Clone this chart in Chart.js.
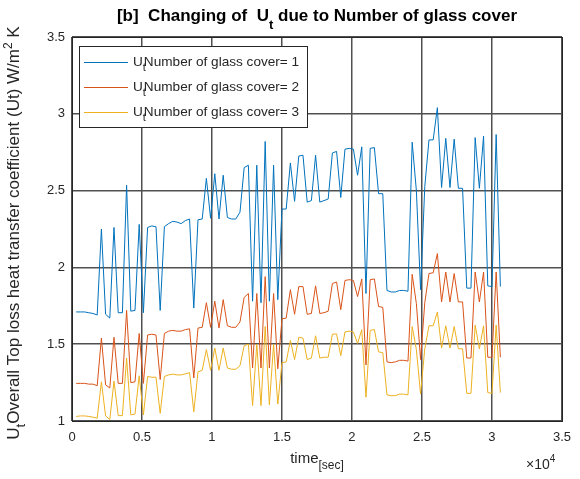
<!DOCTYPE html>
<html>
<head>
<meta charset="utf-8">
<script src="https://cdn.jsdelivr.net/npm/chart.js@4.4.0/dist/chart.umd.min.js"></script>
<style>
  html, body { margin: 0; padding: 0; background: #fff; }
  #wrap { width: 580px; height: 479px; }
</style>
</head>
<body>
<div id="wrap"><canvas id="utChart" width="580" height="479"></canvas></div>
<script>
/* ------------------ DATA ------------------ */
const timeSec = [
    300, 600, 900, 1200, 1500, 1800, 2100, 2400, 2700, 3000,
    3300, 3600, 3900, 4200, 4500, 4800, 5100, 5400, 5700, 6000,
    6300, 6600, 6900, 7200, 7500, 7800, 8100, 8400, 8700, 9000,
    9300, 9600, 9900, 10200, 10500, 10800, 11100, 11400, 11700, 12000,
    12300, 12600, 12900, 13200, 13500, 13800, 14100, 14400, 14700, 15000,
    15300, 15600, 15900, 16200, 16500, 16800, 17100, 17400, 17700, 18000,
    18300, 18600, 18900, 19200, 19500, 19800, 20100, 20400, 20700, 21000,
    21300, 21600, 21900, 22200, 22500, 22800, 23100, 23400, 23700, 24000,
    24300, 24600, 24900, 25200, 25500, 25800, 26100, 26400, 26700, 27000,
    27300, 27600, 27900, 28200, 28500, 28800, 29100, 29400, 29700, 30000,
    30300, 30600
];

// one glass cover
const ut1 = [
    1.71, 1.71, 1.71, 1.705, 1.70, 1.69, 2.25, 1.695, 1.67, 2.26,
    1.705, 1.705, 2.535, 1.715, 1.72, 2.28, 1.705, 2.26, 2.27, 2.265,
    1.72, 2.265, 2.285, 2.30, 2.295, 2.285, 2.305, 2.315, 1.735, 2.31,
    2.315, 2.58, 2.32, 2.61, 2.315, 2.60, 2.325, 2.315, 2.315, 2.36,
    2.65, 2.665, 1.78, 2.665, 1.77, 2.82, 1.78, 2.665, 1.79, 2.38,
    2.38, 2.68, 2.43, 2.725, 2.73, 2.425, 2.435, 2.73, 2.425, 2.435,
    2.445, 2.745, 2.755, 2.455, 2.77, 2.775, 2.77, 2.60, 2.785, 1.83,
    2.775, 2.78, 2.48, 2.48, 1.85, 1.84, 1.84, 1.85, 1.85, 1.845,
    2.815, 2.50, 1.855, 2.525, 2.83, 2.83, 3.04, 2.52, 2.84, 2.52,
    2.835, 2.515, 2.515, 1.865, 1.865, 2.845, 2.515, 2.855, 1.88, 1.875,
    2.865, 1.875
];

// two glass covers
const ut2 = [
    1.245, 1.245, 1.245, 1.24, 1.24, 1.23, 1.54, 1.235, 1.215, 1.545,
    1.245, 1.245, 1.72, 1.25, 1.255, 1.57, 1.245, 1.56, 1.565, 1.56,
    1.27, 1.57, 1.585, 1.59, 1.585, 1.585, 1.595, 1.60, 1.28, 1.605,
    1.61, 1.77, 1.61, 1.78, 1.605, 1.79, 1.62, 1.61, 1.61, 1.645,
    1.805, 1.83, 1.345, 1.83, 1.345, 1.94, 1.345, 1.83, 1.34, 1.665,
    1.67, 1.855, 1.695, 1.875, 1.875, 1.695, 1.70, 1.88, 1.70, 1.705,
    1.715, 1.895, 1.905, 1.725, 1.915, 1.92, 1.915, 1.81, 1.925, 1.365,
    1.92, 1.925, 1.745, 1.74, 1.385, 1.38, 1.385, 1.395, 1.395, 1.39,
    1.955, 1.765, 1.40, 1.77, 1.96, 1.965, 2.09, 1.775, 1.97, 1.775,
    1.96, 1.775, 1.775, 1.41, 1.41, 1.97, 1.775, 1.97, 1.415, 1.415,
    1.97, 1.415
];

// three glass covers
const ut3 = [
    1.03, 1.033, 1.033, 1.03, 1.025, 1.018, 1.255, 1.033, 1.01, 1.26,
    1.035, 1.035, 1.41, 1.04, 1.045, 1.295, 1.04, 1.29, 1.285, 1.285,
    1.05, 1.29, 1.30, 1.305, 1.30, 1.30, 1.307, 1.315, 1.06, 1.32,
    1.33, 1.465, 1.33, 1.475, 1.33, 1.475, 1.345, 1.337, 1.337, 1.36,
    1.49, 1.50, 1.10, 1.50, 1.10, 1.615, 1.105, 1.50, 1.11, 1.38,
    1.385, 1.525, 1.40, 1.545, 1.54, 1.40, 1.41, 1.555, 1.41, 1.415,
    1.415, 1.565, 1.567, 1.425, 1.58, 1.585, 1.58, 1.505, 1.595, 1.155,
    1.59, 1.595, 1.45, 1.445, 1.17, 1.165, 1.165, 1.175, 1.175, 1.17,
    1.615, 1.465, 1.175, 1.47, 1.62, 1.62, 1.71, 1.475, 1.62, 1.475,
    1.615, 1.47, 1.47, 1.18, 1.18, 1.625, 1.47, 1.62, 1.185, 1.18,
    1.625, 1.185
];

const seriesLabels = ['1', '2', '3'];
const seriesColors = ['#0072BD', '#D95319', '#EDB120'];

const xTicks = [0, 5000, 10000, 15000, 20000, 25000, 30000, 35000];
const yTicks = [1, 1.5, 2, 2.5, 3, 3.5];

const FONT = '"Liberation Sans", Arial, Helvetica, sans-serif';
const TXT = '#262626';

/* ------------------ helpers ------------------ */
function toPoints(ys) {
    return ys.map((y, i) => ({ x: timeSec[i], y: y }));
}

// draws text pieces left to right (dy shifts sub/superscripts)
function drawRich(ctx, parts, x, y) {
    parts.forEach(p => {
        ctx.font = p.font;
        ctx.fillText(p.text, x, y + (p.dy || 0));
        x += ctx.measureText(p.text).width + (p.gap || 0);
    });
    return x;
}
function richWidth(ctx, parts) {
    let w = 0;
    parts.forEach(p => {
        ctx.font = p.font;
        w += ctx.measureText(p.text).width + (p.gap || 0);
    });
    return w;
}

/* ------------------ decorations (MATLAB look) ------------------ */
const matlabDecor = {
    id: 'matlabDecor',
    afterDraw(chart) {
        const ctx = chart.ctx;
        const a = chart.chartArea;
        ctx.save();

        // axes box
        ctx.strokeStyle = TXT;
        ctx.lineWidth = 1;
        ctx.strokeRect(Math.round(a.left) + 0.5, Math.round(a.top) + 0.5,
            Math.round(a.right - a.left), Math.round(a.bottom - a.top));

        ctx.fillStyle = '#000';
        ctx.textAlign = 'left';
        ctx.textBaseline = 'alphabetic';

        // title
        const titleParts = [
            { text: '[b]  Changing of  U', font: 'bold 17px ' + FONT },
            { text: 't', font: 'bold 13px ' + FONT, dy: 8 },
            { text: ' due to Number of glass cover', font: 'bold 17px ' + FONT }
        ];
        const tw = richWidth(ctx, titleParts);
        drawRich(ctx, titleParts, (a.left + a.right) / 2 - tw / 2, 21);

        ctx.fillStyle = TXT;

        // x label
        const xParts = [
            { text: 'time', font: '15px ' + FONT },
            { text: '[sec]', font: '12px ' + FONT, dy: 6 }
        ];
        const xw = richWidth(ctx, xParts);
        drawRich(ctx, xParts, (a.left + a.right) / 2 - xw / 2, 463);

        // exponent
        drawRich(ctx, [
            { text: '\u00d710', font: '14px ' + FONT },
            { text: '4', font: '10px ' + FONT, dy: -7 }
        ], a.right - 36, 469);

        // y label (rotated)
        const yParts = [
            { text: 'U', font: '17px ' + FONT },
            { text: 't', font: '13px ' + FONT, dy: 6 },
            { text: 'Overall Top loss heat transfer coefficient (Ut) W/m', font: '17px ' + FONT },
            { text: '2', font: '12px ' + FONT, dy: -7 },
            { text: ' K', font: '17px ' + FONT }
        ];
        const yw = richWidth(ctx, yParts);
        ctx.save();
        ctx.translate(19, 233);
        ctx.rotate(-Math.PI / 2);
        drawRich(ctx, yParts, -yw / 2, 0);
        ctx.restore();

        // legend
        const lx = 79.5, ly = 46.5, lw = 228, lh = 81;
        ctx.fillStyle = '#fff';
        ctx.fillRect(lx, ly, lw, lh);
        ctx.strokeStyle = TXT;
        ctx.strokeRect(lx, ly, lw, lh);
        seriesLabels.forEach((lab, i) => {
            const cy = 62 + i * 25;
            ctx.strokeStyle = seriesColors[i];
            ctx.lineWidth = 1;
            ctx.beginPath();
            ctx.moveTo(84, cy + 0.5);
            ctx.lineTo(128, cy + 0.5);
            ctx.stroke();
            ctx.fillStyle = TXT;
            drawRich(ctx, [
                { text: 'U', font: '13.6px ' + FONT },
                { text: 't', font: '11px ' + FONT, dy: 5, gap: -2 },
                { text: 'Number of glass cover= ' + lab, font: '13.6px ' + FONT }
            ], 133, cy + 4);
        });

        ctx.restore();
    }
};

/* ------------------ CHART ------------------ */
const ctx = document.getElementById('utChart').getContext('2d');

new Chart(ctx, {
    type: 'line',
    data: {
        datasets: [ut1, ut2, ut3].map((ys, i) => ({
            label: 'Number of glass cover= ' + seriesLabels[i],
            data: toPoints(ys),
            borderColor: seriesColors[i],
            backgroundColor: seriesColors[i],
            borderWidth: 1,
            pointRadius: 0,
            tension: 0,
            fill: false
        }))
    },
    options: {
        responsive: false,
        animation: false,
        devicePixelRatio: 1,
        layout: { padding: { left: 32, right: 15, top: 37, bottom: 36 } },
        plugins: {
            legend: { display: false },
            tooltip: { enabled: false },
            title: { display: false }
        },
        scales: {
            x: {
                type: 'linear',
                min: 0,
                max: 35000,
                afterBuildTicks: s => { s.ticks = xTicks.map(v => ({ value: v })); },
                afterFit: s => { s.height = 22; },
                ticks: {
                    callback: v => String(v / 10000),
                    color: TXT,
                    font: { family: FONT, size: 13 },
                    padding: 9,
                    maxRotation: 0,
                    autoSkip: false
                },
                grid: { color: '#505050', lineWidth: 1.5, drawTicks: false },
                border: { display: false }
            },
            y: {
                min: 1,
                max: 3.5,
                afterBuildTicks: s => { s.ticks = yTicks.map(v => ({ value: v })); },
                afterFit: s => { s.width = 40; },
                ticks: {
                    callback: v => String(v),
                    color: TXT,
                    font: { family: FONT, size: 13 },
                    padding: 7,
                    autoSkip: false
                },
                grid: { color: '#505050', lineWidth: 1.5, drawTicks: false },
                border: { display: false }
            }
        }
    },
    plugins: [matlabDecor]
});
</script>
</body>
</html>
